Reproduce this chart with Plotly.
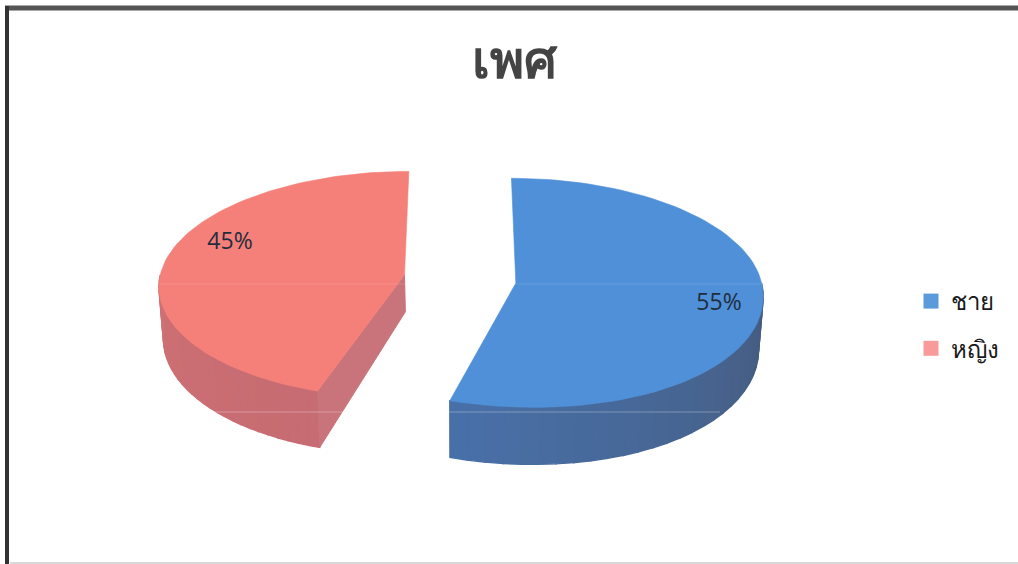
import math
import plotly.graph_objects as go

# ---- data ----
title_text = "เพศ"
categories = ["ชาย", "หญิง"]
values = [55, 45]
top_colors = ["#4f90d8", "#f58079"]
legend_colors = ["#5a9bdc", "#f99a9a"]
wall_start = [(72, 112, 168), (198, 108, 114)]
wall_end = [(70, 90, 124), (206, 112, 116)]
label_pos = [(719, 304), (230, 243)]

# ---- projection of the pie (pixel-space axes) ----
VX, VY = 460, 279
A, B = 245, 113
P = 0.085
EXPLODE = 0.23
FRONT_SHIFT = [12, 0]


def project(X, Y):
    s = 1 / (1 + P * Y)
    return VX + A * X * s, VY - B * Y * s, s


def point(t, r, bis, i, bottom=False):
    ex, ey = math.sin(bis) * EXPLODE, math.cos(bis) * EXPLODE
    Y = ey + r * math.cos(t)
    x, y, s = project(ex + r * math.sin(t), Y)
    x += FRONT_SHIFT[i] * max(0.0, -Y) ** 2
    if bottom:
        x = VX + (x - VX) * 0.985
        y += (37 + 15 * r) * s
    return x, y


def mix(c1, c2, f):
    return "rgb(%d,%d,%d)" % tuple(round(a + (b - a) * f) for a, b in zip(c1, c2))


fig = go.Figure()


def poly(pts, color, lw=1.0):
    fig.add_trace(go.Scatter(
        x=[p[0] for p in pts] + [pts[0][0]], y=[p[1] for p in pts] + [pts[0][1]],
        mode="lines", fill="toself", fillcolor=color,
        line=dict(color=color, width=lw), hoverinfo="skip", showlegend=False))


total = sum(values)
start = 0.0
for i, v in enumerate(values):
    t0 = start
    t1 = start + 2 * math.pi * v / total
    start = t1
    bis = (t0 + t1) / 2
    N = 90
    ts = [t0 + (t1 - t0) * k / N for k in range(N + 1)]
    front = sorted(t for t in ts if math.cos(t) < 0.02)
    M = 28
    for k in range(M):
        a = front[0] + (front[-1] - front[0]) * k / M
        b = front[0] + (front[-1] - front[0]) * (k + 1) / M
        f = k / (M - 1)
        col = mix(wall_end[0], wall_start[0], f) if i == 0 else mix(wall_start[1], wall_end[1], f)
        poly([point(a, 1, bis, i), point(b, 1, bis, i),
              point(b, 1, bis, i, True), point(a, 1, bis, i, True)], col, 1.4)
    if i == 1:
        poly([point(t0, 0, bis, i), point(t0, 1, bis, i),
              point(t0, 1, bis, i, True), point(t0, 0, bis, i, True)], "#c8747a")
    poly([point(0, 0, bis, i)] + [point(t, 1, bis, i) for t in ts], top_colors[i], 0.6)
    fig.add_trace(go.Scatter(
        x=[label_pos[i][0]], y=[label_pos[i][1]], mode="text", text=[f"{v}%"],
        textfont=dict(family="Open Sans, sans-serif", size=23, color="#1f2d3d"),
        hoverinfo="skip", showlegend=False))

for i, c in enumerate(categories):
    fig.add_trace(go.Scatter(
        x=[None], y=[None], mode="markers", name=c, legendgroup=c,
        marker=dict(symbol="square", size=15, color=legend_colors[i])))

fig.update_layout(
    width=1018, height=564, margin=dict(l=0, r=0, t=0, b=0),
    paper_bgcolor="white", plot_bgcolor="white",
    xaxis=dict(range=[0, 1018], visible=False),
    yaxis=dict(range=[564, 0], visible=False),
    title=dict(text=title_text, x=514 / 1018, y=1 - 60 / 564, xanchor="center", yanchor="middle",
               font=dict(family="Noto Sans, Open Sans, sans-serif", size=52, color="#444444", weight="bold")),
    legend=dict(x=911 / 1018, y=1 - 279 / 564, xanchor="left", yanchor="top", tracegroupgap=13,
                font=dict(family="Noto Sans, Open Sans, sans-serif", size=24, color="#1a1a1a"),
                bgcolor="rgba(0,0,0,0)", itemwidth=30),
    shapes=[
        dict(type="line", x0=5, x1=1018, y0=8, y1=8, line=dict(color="#555555", width=5)),
        dict(type="line", x0=7, x1=7, y0=6, y1=564, line=dict(color="#333333", width=4)),
        dict(type="line", x0=10, x1=1018, y0=563, y1=563, line=dict(color="#d8d8d8", width=2)),
        dict(type="line", x0=160, x1=765, y0=284, y1=284, line=dict(color="rgba(255,255,255,0.12)", width=1)),
        dict(type="line", x0=160, x1=720, y0=412, y1=412, line=dict(color="rgba(255,255,255,0.3)", width=1)),
    ],
)
fig.write_html("out.html", config={"displayModeBar": False},
               post_script="document.body.style.margin='0';document.documentElement.style.overflow='hidden';")
